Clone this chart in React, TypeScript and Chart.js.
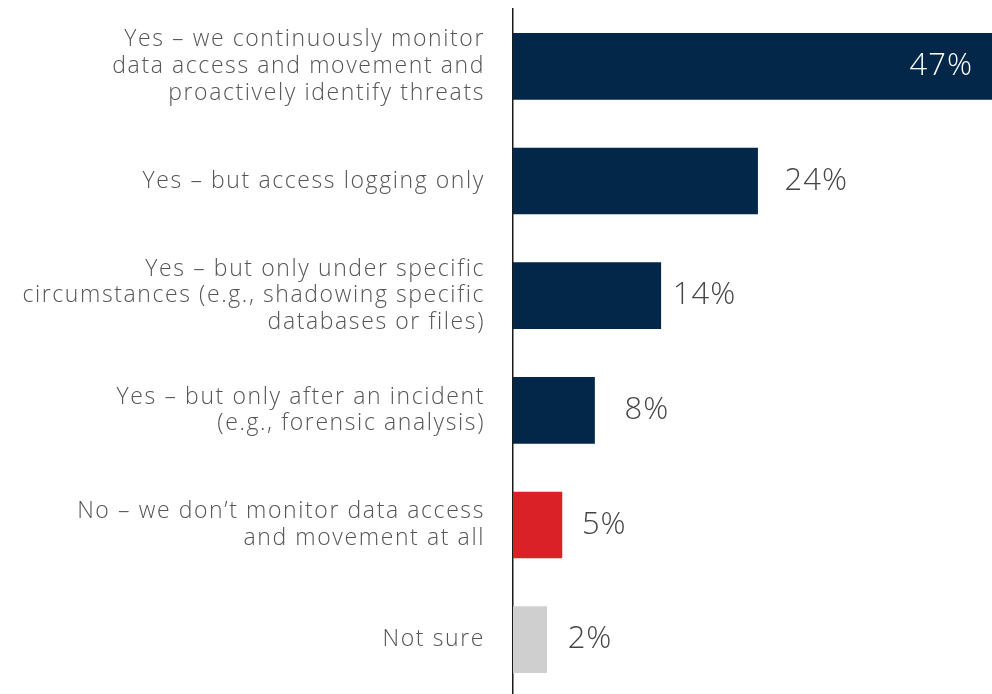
import React, { useEffect, useRef } from "react";
import { Chart, registerables } from "chart.js";

Chart.register(...registerables);

const categories: (string | string[])[] = [
  ["Yes – we continuously monitor", "data access and movement and", "proactively identify threats"],
  "Yes – but access logging only",
  ["Yes – but only under specific", "circumstances (e.g., shadowing specific", "databases or files)"],
  ["Yes – but only after an incident", "(e.g., forensic analysis)"],
  ["No – we don’t monitor data access", "and movement at all"],
  "Not sure",
];
const barValues = [47, 24, 14.5, 8, 4.8, 3.3];
const valueLabels = ["47%", "24%", "14%", "8%", "5%", "2%"];
const barColors = ["#022749", "#022749", "#022749", "#022749", "#DA2128", "#CFCFCF"];
const labelGaps = [0, 27, 12, 30, 20, 21];

const FONT = "'Open Sans', 'DejaVu Sans', sans-serif";
const SPACING = "1.6px";

const spacingPlugin = {
  id: "spacing",
  beforeInit(chart: any) {
    chart.ctx.letterSpacing = SPACING;
  },
  beforeLayout(chart: any) {
    chart.ctx.letterSpacing = SPACING;
  },
  beforeDraw(chart: any) {
    chart.ctx.letterSpacing = SPACING;
  },
};

const valueLabelPlugin = {
  id: "valueLabels",
  afterDatasetsDraw(chart: any) {
    const ctx = chart.ctx;
    const meta = chart.getDatasetMeta(0);
    ctx.save();
    ctx.letterSpacing = "1px";
    ctx.font = `300 31px ${FONT}`;
    ctx.textBaseline = "middle";
    meta.data.forEach((bar: any, i: number) => {
      const text = valueLabels[i];
      if (i === 0) {
        ctx.fillStyle = "#ffffff";
        ctx.textAlign = "right";
        ctx.fillText(text, bar.x - 19, bar.y);
      } else {
        ctx.fillStyle = "#454545";
        ctx.textAlign = "left";
        ctx.fillText(text, bar.x + labelGaps[i], bar.y);
      }
    });
    ctx.restore();
  },
};

export default function App() {
  const ref = useRef<HTMLCanvasElement>(null);
  useEffect(() => {
    document.body.style.margin = "0";
    document.body.style.overflow = "hidden";
    const chart = new Chart(ref.current!, {
      type: "bar",
      data: {
        labels: categories,
        datasets: [
          {
            data: barValues,
            backgroundColor: barColors,
            barThickness: 66,
            borderWidth: 0,
          },
        ],
      },
      options: {
        indexAxis: "y",
        animation: false,
        responsive: false,
        maintainAspectRatio: false,
        layout: { padding: { top: 9, right: 0, bottom: 0, left: 0 } },
        plugins: { legend: { display: false }, tooltip: { enabled: false } },
        scales: {
          x: { display: false, min: 0, max: 47 },
          y: {
            grid: { display: false, drawTicks: false },
            border: { display: true, color: "#1a1a1a", width: 1.5 },
            ticks: {
              color: "#555555",
              padding: 28,
              crossAlign: "near",
              font: { family: FONT, size: 23, weight: "300", lineHeight: 1.16 },
            },
            afterFit(scale: any) {
              scale.width = 513;
              scale.paddingTop = 0;
              scale.paddingBottom = 0;
            },
          },
        },
      },
      plugins: [spacingPlugin, valueLabelPlugin],
    });
    return () => chart.destroy();
  }, []);
  return (
    <div style={{ position: "fixed", left: 0, top: 0, width: 992, height: 697 }}>
      <canvas ref={ref} width={992} height={697} style={{ width: 992, height: 697 }} />
    </div>
  );
}
